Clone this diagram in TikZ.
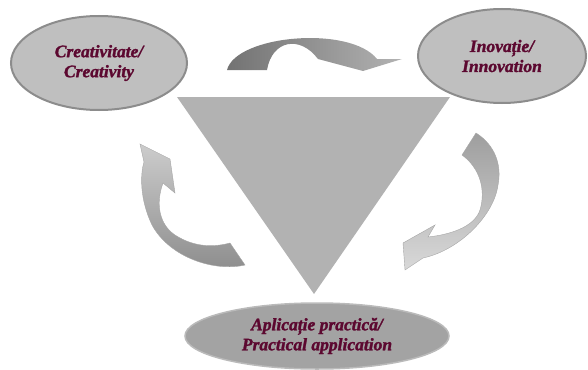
\documentclass[tikz,border=0pt]{standalone}
\usepackage{fontspec}
\setmainfont{Liberation Serif}
\newfontfamily\fettkursiv{Liberation Serif}[UprightFont={* Bold Italic}, FakeBold=1.6]
\usetikzlibrary{shapes.geometric}
\definecolor{weinrot}{RGB}{92,8,48}
\begin{document}
\begin{tikzpicture}[x=1pt,y=-1pt]
	\tikzset{bubble/.style={ellipse, fill=black!25, draw=black!45, line width=2pt, inner sep=0pt,
			text=weinrot, align=center, font=\fontsize{17.5}{20}\fettkursiv\bfseries},
		bogen/.style={draw=black!35, line width=.4pt}}
	\useasboundingbox (0,0) rectangle (588,369);
	%Dreieck
	\fill[black!30] (177,97) -- (450,97) -- (314,294) -- cycle;
	
	%Ellipsen
	\node[bubble, minimum width=176pt, minimum height=94pt] (crea) at (99,63)
	{Creativitate/\\Creativity};
	\node[bubble, minimum width=168pt, minimum height=94pt] (inov) at (502,56)
	{Inovație/\\Innovation};
	\node[bubble, minimum width=264pt, minimum height=66pt, fill=black!36, draw=black!27, line width=1.5pt] (apl) at (317,336)
	{Aplicație practică/\\Practical application};
	
	%Pfeil oben
	\shade[left color=black!55, right color=black!30] (227,70) .. controls (236,35) and (350,25) .. (377,59)
	-- (402,59) -- (363,71) -- (318,59) .. controls (300,35) and (272,40) .. (267,70) -- cycle;
	
	%Pfeil rechts
	\shade[bogen, top color=black!38, bottom color=black!15] (476,133) .. controls (495,145) and (502,165) .. (498,185)
	.. controls (494,215) and (460,250) .. (423,258) -- (405,270) -- (403,243) -- (435,225) -- (428,237)
	.. controls (455,234) and (475,225) .. (480,210) .. controls (486,190) and (480,168) .. (462,155) -- cycle;
	
	%Pfeil links
	\shade[bogen, top color=black!20, bottom color=black!45] (140,144) -- (170,159) -- (175,193) -- (163,183)
	.. controls (155,205) and (160,225) .. (175,235) .. controls (195,248) and (215,247) .. (230,243)
	-- (245,265) .. controls (215,272) and (170,258) .. (152,225) .. controls (140,200) and (140,175) .. (144,162) -- cycle;
	
\end{tikzpicture}
\end{document}
